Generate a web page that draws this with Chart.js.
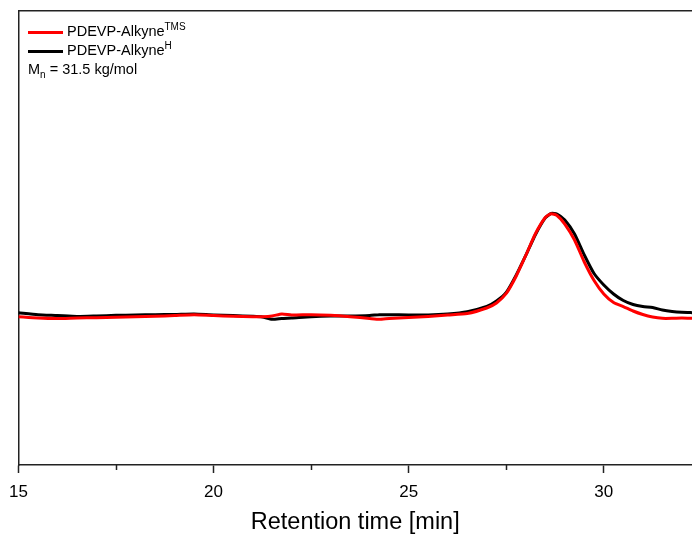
<!DOCTYPE html>
<html>
<head>
<meta charset="utf-8">
<script src="https://cdn.jsdelivr.net/npm/chart.js@4"></script>
<style>
  body { margin: 0; background: #fff; }
  #wrap { position: relative; width: 692px; height: 537px; }
  #legend { position: absolute; left: 0; top: 0; font-family: "Liberation Sans", Arial, sans-serif; font-size: 14.5px; color: #000; }
  .row { position: absolute; white-space: nowrap; }
  .swatch { position: absolute; width: 35px; height: 3px; }
  sup, sub { font-size: 10px; line-height: 0; }
</style>
</head>
<body>
<div id="wrap">
  <canvas id="gpcChart" width="692" height="537"></canvas>
  <div id="legend">
    <div class="swatch" style="left:28px; top:31px; background:#ff0000;"></div>
    <div class="row" style="left:67px; top:23px;">PDEVP-Alkyne<sup>TMS</sup></div>
    <div class="swatch" style="left:28px; top:50px; background:#000;"></div>
    <div class="row" style="left:67px; top:42px;">PDEVP-Alkyne<sup>H</sup></div>
    <div class="row" style="left:28px; top:61px;">M<sub>n</sub> = 31.5 kg/mol</div>
  </div>
</div>
<script>
// retention time [min]
const times = [15, 15.5, 16, 16.5, 17, 17.5, 18, 18.5, 19, 19.5, 20, 20.5, 21, 21.25, 21.5, 21.75,
  22, 22.5, 23, 23.5, 24, 24.25, 24.5, 25, 25.5, 26, 26.5, 27, 27.25, 27.5, 27.75, 28, 28.25,
  28.5, 28.65, 28.8, 29, 29.25, 29.5, 29.75, 30, 30.25, 30.5, 30.75, 31, 31.25, 31.5, 31.75, 32, 32.3];

// detector signal (arbitrary units)
const tmsSignal = [32.67, 32.38, 32.27, 32.38, 32.44, 32.53, 32.64, 32.75, 32.93, 33.11, 32.93, 32.75,
  32.67, 32.67, 32.82, 33.26, 33.04, 33.11, 32.97, 32.67, 32.27, 32.09, 32.27, 32.49, 32.71, 33.04,
  33.37, 34.58, 35.68, 37.78, 41.52, 46.15, 50.99, 54.52, 55.35, 54.96, 53.08, 49.56, 44.71, 40.64,
  37.67, 35.79, 34.91, 33.92, 33.15, 32.60, 32.31, 32.31, 32.38, 32.31];

const hSignal = [33.55, 33.11, 32.93, 32.71, 32.82, 32.97, 33.04, 33.11, 33.15, 33.26, 33.04, 32.93,
  32.75, 32.60, 32.09, 32.27, 32.38, 32.67, 32.82, 32.82, 32.93, 33.11, 33.11, 33.04, 33.04, 33.26,
  33.77, 34.91, 36.12, 38.00, 41.74, 46.15, 50.77, 54.41, 55.40, 55.29, 53.96, 50.88, 46.26, 42.18,
  39.65, 37.67, 36.23, 35.35, 34.91, 34.69, 34.14, 33.81, 33.63, 33.55];

const xMin = 15;
const xMax = 32.26;
const majorStep = 5;
const minorTicks = [17.5, 22.5, 27.5];

const axisColor = '#222';

// short unlabeled ticks between the major ones
const minorTickPlugin = {
  id: 'minorTicks',
  afterDraw(chart) {
    const scale = chart.scales.x;
    const ctx = chart.ctx;
    ctx.save();
    ctx.strokeStyle = axisColor;
    ctx.lineWidth = 1.5;
    minorTicks.forEach(v => {
      const px = Math.round(scale.getPixelForValue(v)) + 0.5;
      ctx.beginPath();
      ctx.moveTo(px, scale.top);
      ctx.lineTo(px, scale.top + 5);
      ctx.stroke();
    });
    ctx.restore();
  }
};

const ctx = document.getElementById('gpcChart').getContext('2d');
new Chart(ctx, {
  type: 'line',
  data: {
    labels: times,
    datasets: [
      {
        label: 'PDEVP-Alkyne TMS',
        data: times.map((t, i) => ({ x: t, y: tmsSignal[i] })),
        borderColor: '#ff0000',
        borderWidth: 3,
        pointRadius: 0,
        tension: 0.2,
        order: 1
      },
      {
        label: 'PDEVP-Alkyne H',
        data: times.map((t, i) => ({ x: t, y: hSignal[i] })),
        borderColor: '#000000',
        borderWidth: 3,
        pointRadius: 0,
        tension: 0.2,
        order: 2
      }
    ]
  },
  options: {
    responsive: false,
    animation: false,
    layout: { padding: 0 },
    plugins: { legend: { display: false }, tooltip: { enabled: false } },
    scales: {
      x: {
        type: 'linear',
        position: 'bottom',
        min: xMin,
        max: xMax,
        afterFit: s => { s.height = 72; },
        border: { display: true, color: axisColor, width: 1.5 },
        grid: { display: true, drawOnChartArea: false, drawTicks: true, tickLength: 8, color: axisColor, tickWidth: 1.5 },
        ticks: {
          stepSize: majorStep,
          includeBounds: false,
          color: '#000',
          padding: 9,
          maxRotation: 0,
          font: { family: '"Liberation Sans", Arial, sans-serif', size: 17 }
        },
        title: {
          display: true,
          text: 'Retention time [min]',
          color: '#000',
          padding: { top: 0, bottom: 0 },
          font: { family: '"Liberation Sans", Arial, sans-serif', size: 23.5 }
        }
      },
      xTop: {
        type: 'linear',
        position: 'top',
        min: xMin,
        max: xMax,
        afterFit: s => { s.height = 11; },
        border: { display: true, color: axisColor, width: 1.5 },
        grid: { display: false, drawTicks: false },
        ticks: { display: false }
      },
      y: {
        min: 0,
        max: 100,
        afterFit: s => { s.width = 18; },
        border: { display: true, color: axisColor, width: 1.5 },
        grid: { display: false, drawTicks: false },
        ticks: { display: false }
      }
    }
  },
  plugins: [minorTickPlugin]
});
</script>
</body>
</html>
